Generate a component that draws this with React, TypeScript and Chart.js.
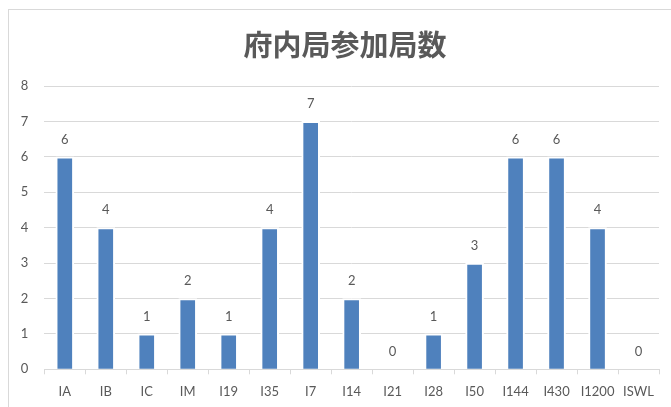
import React, { useEffect, useRef } from "react";
import { Chart, registerables } from "chart.js";

Chart.register(...registerables);

const TITLE = "府内局参加局数";
const categories = ["IA", "IB", "IC", "IM", "I19", "I35", "I7", "I14", "I21", "I28", "I50", "I144", "I430", "I1200", "ISWL"];
const counts = [6, 4, 1, 2, 1, 4, 7, 2, 0, 1, 3, 6, 6, 4, 0];
const yTicks = [0, 1, 2, 3, 4, 5, 6, 7, 8];

const TEXT_COLOR = "#595959";
const GRID_COLOR = "#d9d9d9";
const BAR_COLOR = "#4f81bd";
const LABEL_FONT = "Lato, 'Noto Sans', sans-serif";

// Value labels above each bar
const valueLabels = {
  id: "valueLabels",
  afterDatasetsDraw(chart: any) {
    const ctx = chart.ctx;
    const meta = chart.getDatasetMeta(0);
    const data = chart.data.datasets[0].data as number[];
    ctx.save();
    ctx.font = `13px ${LABEL_FONT}`;
    ctx.fillStyle = TEXT_COLOR;
    ctx.textAlign = "center";
    ctx.textBaseline = "middle";
    meta.data.forEach((bar: any, i: number) => {
      ctx.fillText(String(data[i]), bar.x, bar.y - 17.5);
    });
    ctx.restore();
  },
};

// Chart heading drawn in the top band
const heading = {
  id: "heading",
  afterDraw(chart: any) {
    const ctx = chart.ctx;
    ctx.save();
    ctx.font = "bold 29px 'Noto Sans CJK JP', sans-serif";
    ctx.fillStyle = TEXT_COLOR;
    ctx.textAlign = "center";
    ctx.textBaseline = "middle";
    ctx.fillText(TITLE, 345, 45);
    ctx.restore();
  },
};

export default function App() {
  const canvasRef = useRef<HTMLCanvasElement | null>(null);

  useEffect(() => {
    if (!canvasRef.current) return;
    const chart = new Chart(canvasRef.current, {
      type: "bar",
      data: {
        labels: categories,
        datasets: [
          {
            data: counts,
            backgroundColor: BAR_COLOR,
            borderColor: "#ffffff",
            borderWidth: 2,
            borderSkipped: "start",
            barThickness: 18,
          },
        ],
      },
      options: {
        animation: false,
        responsive: false,
        maintainAspectRatio: false,
        layout: { padding: { top: 86, right: 12, bottom: 0, left: 0 } },
        plugins: {
          legend: { display: false },
          title: { display: false },
          tooltip: { enabled: false },
        },
        scales: {
          x: {
            afterFit: (s: any) => {
              s.height = 37.7;
            },
            grid: {
              display: true,
              drawOnChartArea: false,
              drawTicks: true,
              tickLength: 5,
              color: GRID_COLOR,
              offset: true,
            },
            border: { display: true, color: GRID_COLOR },
            ticks: {
              color: TEXT_COLOR,
              font: { family: LABEL_FONT, size: 13 },
              padding: 10,
              maxRotation: 0,
              autoSkip: false,
            },
          },
          y: {
            min: 0,
            max: 8,
            afterFit: (s: any) => {
              s.width = 44.3;
            },
            afterBuildTicks: (s: any) => {
              s.ticks = yTicks.map((v) => ({ value: v }));
            },
            grid: { color: GRID_COLOR, drawTicks: false },
            border: { display: false },
            ticks: {
              color: TEXT_COLOR,
              font: { family: LABEL_FONT, size: 13 },
              padding: 16,
            },
          },
        },
      },
      plugins: [valueLabels, heading],
    });
    return () => chart.destroy();
  }, []);

  return (
    <div
      style={{
        position: "absolute",
        left: 0,
        top: 0,
        width: 671,
        height: 407,
        background: "#ffffff",
        overflow: "hidden",
      }}
    >
      <div
        style={{
          position: "absolute",
          left: 8,
          top: 9,
          width: 700,
          height: 440,
          border: `1px solid ${GRID_COLOR}`,
        }}
      />
      <canvas
        ref={canvasRef}
        width={671}
        height={407}
        style={{ position: "absolute", left: 0, top: 0, width: 671, height: 407 }}
      />
    </div>
  );
}
